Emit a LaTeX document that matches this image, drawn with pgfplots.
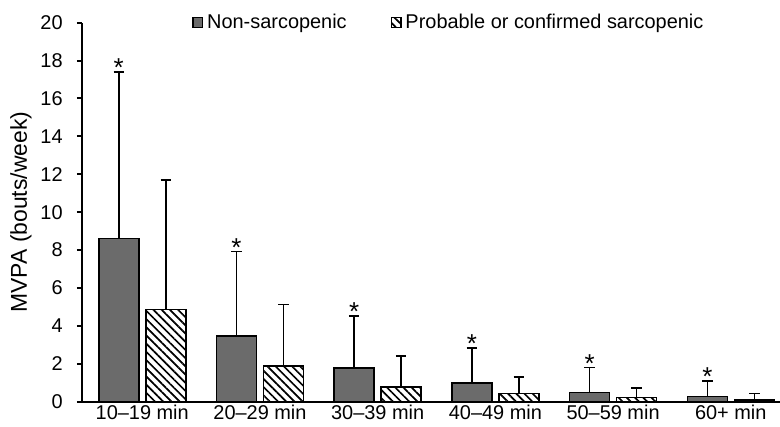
\documentclass[border=0pt]{standalone}
\usepackage{pgfplots}
\pgfplotsset{compat=1.18}
\usepackage{fontspec}
\setmainfont{Liberation Sans}
\usetikzlibrary{patterns.meta,calc}
\definecolor{darkbar}{HTML}{6B6B6B}
\begin{document}
\begin{tikzpicture}
\begin{axis}[
  scale only axis,
  width=349bp, height=189.5bp,
  xmin=-0.512, xmax=5.418,
  ymin=0, ymax=20,
  ytick={0,2,...,20},
  xtick={0,1,2,3,4,5},
  xticklabels={10--19 min,20--29 min,30--39 min,40--49 min,50--59 min,60+ min},
  axis x line*=bottom,
  axis y line*=left,
  axis line style={line width=1bp, -},
  tick align=outside,
  major tick length=2.5bp,
  ytick style={line width=1bp, black},
  xtick style={draw=none},
  xticklabel style={font=\fontsize{10}{12}\selectfont, inner sep=1.5bp, yshift=2.5bp},
  yticklabel style={font=\fontsize{10}{12}\selectfont, inner sep=0pt, xshift=-7bp},
  /pgf/number format/assume math mode=true,
  ylabel={MVPA (bouts/week)},
  ylabel style={font=\fontsize{11.5}{13}\selectfont, at={(axis description cs:-0.0874,0.5)}, anchor=center},
  ybar, bar width=20bp,
  legend columns=2,
  legend style={draw=none, fill=none, at={(axis description cs:0.1576,1.0)}, anchor=west, inner sep=0pt,
    font=\fontsize{10}{12}\selectfont,
    /tikz/every even column/.append style={column sep=20bp},
    cells={anchor=west}},
  legend image code/.code={\draw[#1, line width=0.6bp] (0bp,-2.4bp) rectangle (4.8bp,2.4bp);},
  error bars/y dir=plus,
  error bars/y explicit,
  error bars/error bar style={line width=0.75bp, black},
  error bars/error mark options={line width=0.75bp, black, mark size=2.6bp, rotate=90},
]
\coordinate (bl) at (rel axis cs:0,0);
\coordinate (tr) at (rel axis cs:1,1);
\addplot[bar shift=-11.75bp, fill=darkbar, draw=black, line width=0.75bp]
  table[x=x, y=y, y error=e] {
  x y e
  0 8.62 8.79
  1 3.48 4.44
  2 1.79 2.73
  3 0.99 1.84
  4 0.49 1.32
  5 0.27 0.81
};
\addlegendentry{Non-sarcopenic}
\addplot[bar shift=11.75bp, fill=white, draw=black, line width=0.75bp,
  postaction={pattern={Lines[angle=-45, distance=2.9bp, line width=0.85bp]}}]
  table[x=x, y=y, y error=e] {
  x y e
  0 4.87 6.83
  1 1.88 3.26
  2 0.78 1.63
  3 0.42 0.88
  4 0.21 0.50
  5 0.10 0.32
};
\addlegendentry{Probable or confirmed sarcopenic}
\addplot[bar shift=-11.75bp, draw=none, fill=none, forget plot,
  nodes near coords={*},
  every node near coord/.append style={anchor=south, inner sep=0pt, yshift=-2.5bp, font=\fontsize{13}{14}\selectfont}]
  table[x=x, y=y] {
  x y
  0 17.41
  1 7.92
  2 4.52
  3 2.83
  4 1.81
  5 1.08
};
\end{axis}
\pgfresetboundingbox
\path[use as bounding box] ($(bl)+(-41bp,-12.65bp)$) rectangle ($(tr)+(0,11.35bp)$);
\end{tikzpicture}
\end{document}
